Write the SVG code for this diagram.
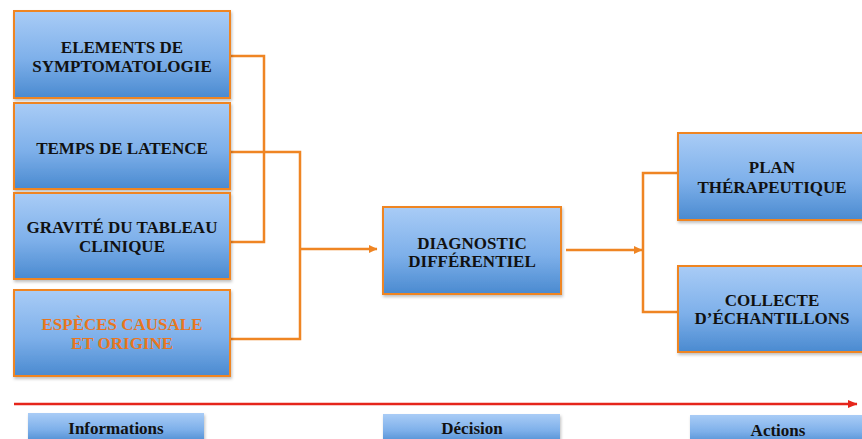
<svg xmlns="http://www.w3.org/2000/svg" width="862" height="439" viewBox="0 0 862 439">
<defs>
<linearGradient id="blue" x1="0" y1="0" x2="0" y2="1">
<stop offset="0" stop-color="#A9CCF6"/>
<stop offset="0.55" stop-color="#7EB0EA"/>
<stop offset="1" stop-color="#4A8AD0"/>
</linearGradient>
<filter id="sh" x="-5%" y="-5%" width="115%" height="120%">
<feDropShadow dx="1" dy="2" stdDeviation="1.5" flood-color="#000" flood-opacity="0.25"/>
</filter>
<marker id="oa" markerWidth="9" markerHeight="9" refX="8" refY="4.5" orient="auto" markerUnits="userSpaceOnUse">
<path d="M0,0.5 L8.5,4.5 L0,8.5 Z" fill="#EF8523"/>
</marker>
<marker id="ra" markerWidth="10" markerHeight="9" refX="9" refY="4.5" orient="auto" markerUnits="userSpaceOnUse">
<path d="M0,0.5 L9.5,4.5 L0,8.5 Z" fill="#E5251B"/>
</marker>
</defs>
<style>
.box{fill:url(#blue);stroke:#EF8523;stroke-width:2;filter:url(#sh)}
.lbl{fill:url(#blue);stroke:none;filter:url(#sh)}
.t{font-family:"Liberation Serif","Times New Roman",serif;font-weight:bold;font-size:17px;fill:#111;text-anchor:middle}
.o{fill:#E8761F}
.c{fill:none;stroke:#EF8523;stroke-width:2.5}
</style>
<rect width="862" height="439" fill="#fff"/>
<g id="connectors">
<polyline class="c" points="231,56 264,56 264,242 231,242"/>
<polyline class="c" points="231,152 300,152 300,339 231,339"/>
<line class="c" x1="300" y1="249" x2="377" y2="249" marker-end="url(#oa)"/>
<line class="c" x1="566" y1="250" x2="642" y2="250" marker-end="url(#oa)"/>
<polyline class="c" points="678,173 643,173 643,312 678,312"/>
<line x1="14" y1="404" x2="857" y2="404" stroke="#E5251B" stroke-width="2.5" marker-end="url(#ra)"/>
</g>
<g id="n1">
<rect class="box" x="14" y="11" width="216" height="87"/>
<text class="t" x="122" y="53">ELEMENTS DE</text>
<text class="t" x="122" y="72">SYMPTOMATOLOGIE</text>
</g>
<g id="n2">
<rect class="box" x="14" y="103" width="216" height="86"/>
<text class="t" x="122" y="154">TEMPS DE LATENCE</text>
</g>
<g id="n3">
<rect class="box" x="14" y="193" width="216" height="86"/>
<text class="t" x="122" y="233">GRAVITÉ DU TABLEAU</text>
<text class="t" x="122" y="252">CLINIQUE</text>
</g>
<g id="n4">
<rect class="box" x="14" y="290" width="216" height="86"/>
<text class="t o" x="122" y="330">ESPÈCES CAUSALE</text>
<text class="t o" x="122" y="349">ET ORIGINE</text>
</g>
<g id="n5">
<rect class="box" x="383" y="207" width="178" height="87"/>
<text class="t" x="472" y="249">DIAGNOSTIC</text>
<text class="t" x="472" y="267">DIFFÉRENTIEL</text>
</g>
<g id="n6">
<rect class="box" x="678" y="133" width="190" height="87"/>
<text class="t" x="772" y="173">PLAN</text>
<text class="t" x="772" y="193">THÉRAPEUTIQUE</text>
</g>
<g id="n7">
<rect class="box" x="678" y="266" width="190" height="86"/>
<text class="t" x="772" y="306">COLLECTE</text>
<text class="t" x="772" y="324">D’ÉCHANTILLONS</text>
</g>
<g id="l1">
<rect class="lbl" x="28" y="413" width="176" height="30"/>
<text class="t" x="116" y="434">Informations</text>
</g>
<g id="l2">
<rect class="lbl" x="383" y="414" width="177" height="30"/>
<text class="t" x="472" y="434">Décision</text>
</g>
<g id="l3">
<rect class="lbl" x="690" y="415" width="180" height="30"/>
<text class="t" x="778" y="436">Actions</text>
</g>
</svg>
